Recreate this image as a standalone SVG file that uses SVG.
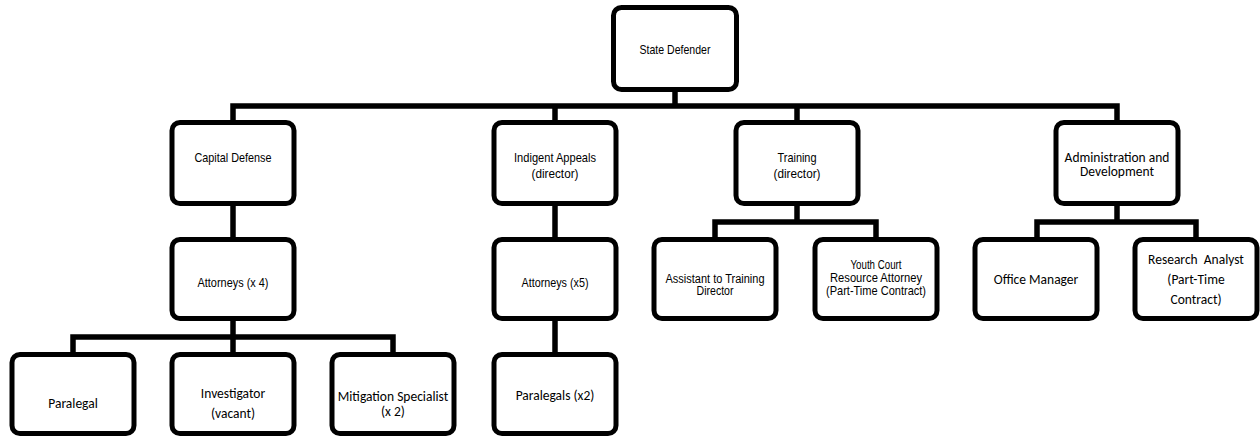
<svg xmlns="http://www.w3.org/2000/svg" width="1260" height="437" viewBox="0 0 1260 437">
<style>
.box{fill:#ffffff;stroke:#000000;stroke-width:5}
.con{fill:none;stroke:#000000;stroke-width:5.5;stroke-linejoin:miter;stroke-linecap:butt}
.n{font-family:"Liberation Sans",Arial,sans-serif;font-size:13px;fill:#000;text-anchor:middle}
.s{font-size:12px}
.c{font-family:Carlito,Lato,"Open Sans",sans-serif;font-size:13.5px;fill:#000;text-anchor:middle}
</style>
<rect width="1260" height="437" fill="#ffffff"/>
<g id="connectors">
<path class="con" d="M675,92 V106"/>
<path class="con" d="M233,120 V106 H1117 V120"/>
<path class="con" d="M555,106 V120"/>
<path class="con" d="M797,106 V120"/>
<path class="con" d="M233,206 V237"/>
<path class="con" d="M233,321 V337"/>
<path class="con" d="M73,352 V337 H393 V352"/>
<path class="con" d="M233,337 V352"/>
<path class="con" d="M555,206 V237"/>
<path class="con" d="M555,321 V352"/>
<path class="con" d="M797,206 V222"/>
<path class="con" d="M715,237 V222 H876 V237"/>
<path class="con" d="M1117,206 V222"/>
<path class="con" d="M1037,237 V222 H1196 V237"/>
</g>
<g id="state-defender">
<rect class="box" x="613.5" y="7.5" width="123" height="82" rx="8"/>
<text class="n" x="675" y="53.5" textLength="71" lengthAdjust="spacingAndGlyphs">State Defender</text>
</g>
<g id="capital-defense">
<rect class="box" x="172" y="122.5" width="122" height="81" rx="8"/>
<text class="n" x="233" y="161.5" textLength="77" lengthAdjust="spacingAndGlyphs">Capital Defense</text>
</g>
<g id="indigent-appeals">
<rect class="box" x="494" y="122.5" width="122" height="81" rx="8"/>
<text class="n" x="555" y="161.5" textLength="82" lengthAdjust="spacingAndGlyphs">Indigent Appeals</text>
<text class="n" x="555" y="177.5" textLength="47" lengthAdjust="spacingAndGlyphs">(director)</text>
</g>
<g id="training">
<rect class="box" x="736" y="122.5" width="122" height="81" rx="8"/>
<text class="n" x="797" y="161.5" textLength="39" lengthAdjust="spacingAndGlyphs">Training</text>
<text class="n" x="797" y="177.5" textLength="47" lengthAdjust="spacingAndGlyphs">(director)</text>
</g>
<g id="administration">
<rect class="box" x="1056" y="122.5" width="122" height="81" rx="8"/>
<text class="c" x="1117" y="161.5">Administration and</text>
<text class="c" x="1117" y="176">Development</text>
</g>
<g id="attorneys-x4">
<rect class="box" x="172" y="239.5" width="122" height="79" rx="8"/>
<text class="n" x="233" y="286.5" textLength="71" lengthAdjust="spacingAndGlyphs">Attorneys (x 4)</text>
</g>
<g id="attorneys-x5">
<rect class="box" x="494" y="239.5" width="122" height="79" rx="8"/>
<text class="n" x="555" y="286.5" textLength="67" lengthAdjust="spacingAndGlyphs">Attorneys (x5)</text>
</g>
<g id="assistant-training">
<rect class="box" x="654" y="239.5" width="122" height="79" rx="8"/>
<text class="n s" x="715" y="283" textLength="99" lengthAdjust="spacingAndGlyphs">Assistant to Training</text>
<text class="n s" x="715" y="295" textLength="37" lengthAdjust="spacingAndGlyphs">Director</text>
</g>
<g id="youth-court">
<rect class="box" x="815" y="239.5" width="122" height="79" rx="8"/>
<text class="n" x="876" y="269" textLength="51" lengthAdjust="spacingAndGlyphs">Youth Court</text>
<text class="n" x="876" y="282" textLength="92" lengthAdjust="spacingAndGlyphs">Resource Attorney</text>
<text class="n" x="876" y="295" textLength="100" lengthAdjust="spacingAndGlyphs">(Part-Time Contract)</text>
</g>
<g id="office-manager">
<rect class="box" x="975" y="239.5" width="122" height="79" rx="8"/>
<text class="c" x="1036" y="283.5">Office Manager</text>
</g>
<g id="research-analyst">
<rect class="box" x="1135" y="239.5" width="122" height="79" rx="8"/>
<text class="c" x="1196" y="263.5" xml:space="preserve">Research  Analyst</text>
<text class="c" x="1196" y="283.5">(Part-Time</text>
<text class="c" x="1196" y="304">Contract)</text>
</g>
<g id="paralegal">
<rect class="box" x="12" y="354.5" width="122" height="79" rx="8"/>
<text class="c" x="73" y="407.5">Paralegal</text>
</g>
<g id="investigator">
<rect class="box" x="172" y="354.5" width="122" height="79" rx="8"/>
<text class="c" x="233" y="397.5">Investigator</text>
<text class="c" x="233" y="417.5">(vacant)</text>
</g>
<g id="mitigation-specialist">
<rect class="box" x="332" y="354.5" width="122" height="79" rx="8"/>
<text class="c" x="393" y="401">Mitigation Specialist</text>
<text class="c" x="393" y="416">(x 2)</text>
</g>
<g id="paralegals-x2">
<rect class="box" x="494" y="354.5" width="122" height="79" rx="8"/>
<text class="c" x="555" y="399.5">Paralegals (x2)</text>
</g>
</svg>
